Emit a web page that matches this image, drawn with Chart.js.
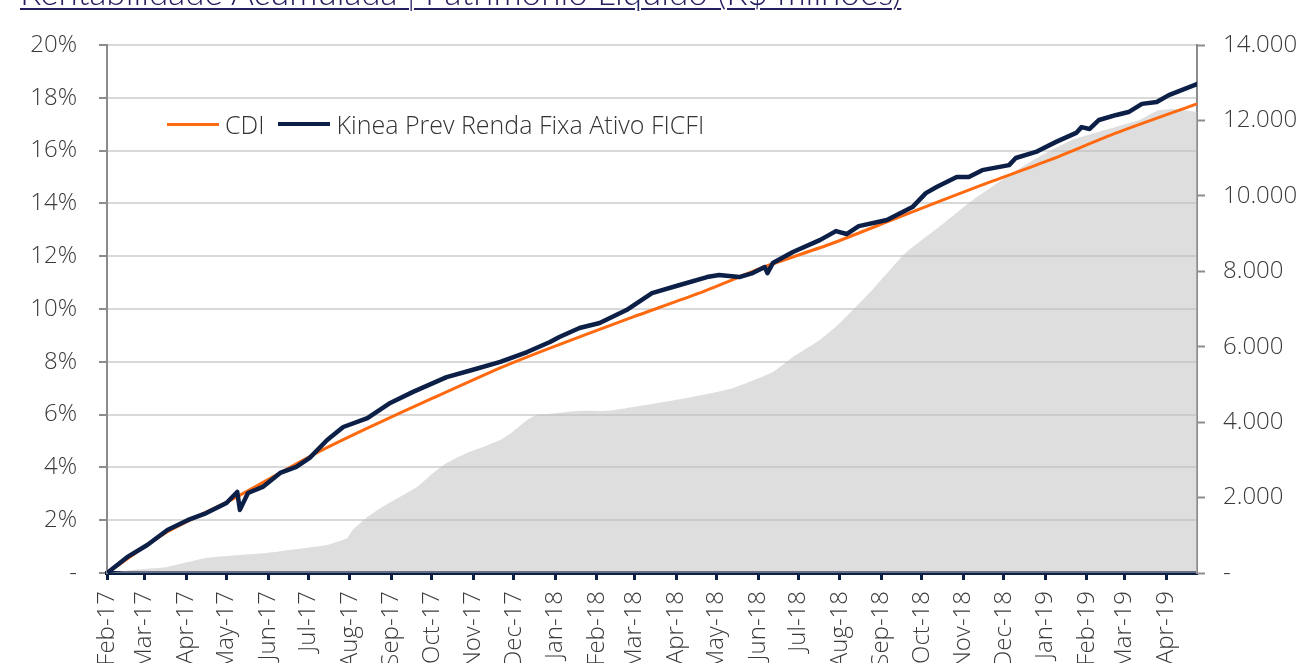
<!DOCTYPE html>
<html>
<head>
<meta charset="utf-8">
<script src="https://cdn.jsdelivr.net/npm/chart.js@4.4.1/dist/chart.umd.min.js"></script>
<style>
  html, body { margin: 0; padding: 0; background: #fff; overflow: hidden; }
  #wrap { position: relative; width: 1300px; height: 663px; overflow: hidden; }
  #title {
    position: absolute; left: 20px; top: -26px;
    font-family: Lato, "Open Sans", sans-serif; font-weight: 300;
    font-size: 35px; line-height: 35px; color: #221d5e;
    text-decoration: underline; text-decoration-thickness: 2px; text-underline-offset: 3px;
    white-space: nowrap;
  }
  #legend {
    position: absolute; left: 167px; top: 109px; height: 30px;
    display: flex; align-items: center;
    font-family: "Open Sans", Lato, sans-serif; font-weight: 300; font-size: 25px; color: #333;
    white-space: nowrap;
  }
  #legend .ln { display: inline-block; width: 52px; margin-right: 6px; }
  #legend .txt { margin-right: 14px; }
  canvas { position: absolute; left: 0; top: 0; }
</style>
</head>
<body>
<div id="wrap">
  <canvas id="c" width="1300" height="663"></canvas>
  <div id="title">Rentabilidade Acumulada | Patrimônio Líquido (R$ milhões)</div>
  <div id="legend"></div>
</div>
<script>
// ---- data ----
const startDate = '2017-02-01';
const endDate = '2019-04-24';

const tickDates = ['2017-02-01','2017-03-01','2017-04-01','2017-05-01','2017-06-01','2017-07-01','2017-08-01','2017-09-01','2017-10-01','2017-11-01','2017-12-01',
  '2018-01-01','2018-02-01','2018-03-01','2018-04-01','2018-05-01','2018-06-01','2018-07-01','2018-08-01','2018-09-01','2018-10-01','2018-11-01','2018-12-01',
  '2019-01-01','2019-02-01','2019-03-01','2019-04-01'];
const tickLabels = ['Feb-17','Mar-17','Apr-17','May-17','Jun-17','Jul-17','Aug-17','Sep-17','Oct-17','Nov-17','Dec-17',
  'Jan-18','Feb-18','Mar-18','Apr-18','May-18','Jun-18','Jul-18','Aug-18','Sep-18','Oct-18','Nov-18','Dec-18',
  'Jan-19','Feb-19','Mar-19','Apr-19'];

const kineaDates = ['2017-02-01','2017-02-16','2017-03-03','2017-03-18','2017-04-02','2017-04-16','2017-05-01','2017-05-09','2017-05-11','2017-05-17',
  '2017-05-28','2017-06-10','2017-06-22','2017-07-02','2017-07-15','2017-07-27','2017-08-14','2017-08-31','2017-09-17','2017-10-12',
  '2017-10-31','2017-11-21','2017-12-11','2017-12-28','2018-01-04','2018-01-19','2018-02-03','2018-02-23','2018-03-14','2018-04-03',
  '2018-04-24','2018-05-03','2018-05-18','2018-05-28','2018-06-06','2018-06-08','2018-06-12','2018-06-27','2018-07-17','2018-07-29',
  '2018-08-06','2018-08-15','2018-09-05','2018-09-24','2018-10-04','2018-10-12','2018-10-27','2018-11-05','2018-11-15','2018-12-05',
  '2018-12-10','2018-12-25','2019-01-09','2019-01-24','2019-01-28','2019-02-03','2019-02-10','2019-02-23','2019-03-04','2019-03-14',
  '2019-03-25','2019-04-03','2019-04-13','2019-04-24'];
const kineaValues = [0.00,0.60,1.06,1.63,2.00,2.27,2.65,3.07,2.39,3.03,
  3.26,3.79,4.02,4.36,5.04,5.53,5.87,6.44,6.86,7.42,
  7.69,8.00,8.37,8.75,8.94,9.28,9.47,9.96,10.60,10.90,
  11.21,11.29,11.21,11.36,11.59,11.36,11.74,12.16,12.61,12.95,
  12.84,13.14,13.37,13.86,14.39,14.62,15.00,15.00,15.26,15.45,
  15.72,15.95,16.33,16.67,16.89,16.82,17.16,17.35,17.46,17.77,
  17.84,18.10,18.30,18.52];

const cdiDates = ['2017-02-01','2017-03-18','2017-05-09','2017-07-04','2017-08-14','2017-10-02','2017-11-21','2017-12-28','2018-02-28',
  '2018-04-18','2018-06-07','2018-07-26','2018-09-14','2018-11-15','2019-01-04','2019-02-23','2019-04-24'];
const cdiValues = [0.00,1.56,2.89,4.47,5.49,6.63,7.77,8.52,9.70,
  10.60,11.62,12.48,13.48,14.70,15.64,16.67,17.77];

const plDates = ['2017-02-01','2017-02-20','2017-03-18','2017-04-02','2017-04-16','2017-05-11','2017-05-31','2017-07-04','2017-07-15','2017-07-30',
  '2017-08-03','2017-08-14','2017-08-25','2017-09-07','2017-09-20','2017-10-02','2017-10-12','2017-10-27','2017-11-08','2017-11-21',
  '2017-11-30','2017-12-11','2017-12-18','2017-12-31','2018-01-19','2018-02-10','2018-02-28','2018-04-09','2018-05-13','2018-06-12',
  '2018-06-27','2018-07-17','2018-08-01','2018-08-25','2018-09-19','2018-10-14','2018-11-08','2018-12-03','2018-12-27','2019-01-21',
  '2019-02-15','2019-03-12','2019-03-25','2019-04-05','2019-04-24'];
const plValues = [0,80,160,290,400,477,530,690,743,928,
  1140,1485,1750,2015,2280,2652,2917,3182,3341,3527,
  3739,4057,4190,4230,4300,4300,4400,4640,4900,5330,
  5730,6180,6630,7505,8490,9180,9890,10500,11030,11480,
  11750,12010,12250,12300,12225];

// ---- styling ----
const NAVY = '#0c1f47';
const ORANGE = '#ff6a10';
const TXT = '#3a3a3a';
const FONT = { family: '"Open Sans", Lato, sans-serif', weight: '300', size: 24 };

const t0 = Date.parse(startDate);
const day = s => (Date.parse(s) - t0) / 86400000;
const pts = (dates, vals) => dates.map((d, i) => ({ x: day(d), y: vals[i] }));
const thousands = v => String(v).replace(/\B(?=(\d{3})+(?!\d))/g, '.');

// legend (HTML, real text)
const legendItems = [
  { label: 'CDI', color: ORANGE, w: 3 },
  { label: 'Kinea Prev Renda Fixa Ativo FICFI', color: NAVY, w: 4 }
];
const lg = document.getElementById('legend');
legendItems.forEach(it => {
  const l = document.createElement('span');
  l.className = 'ln'; l.style.height = it.w + 'px'; l.style.background = it.color;
  const t = document.createElement('span');
  t.className = 'txt'; t.textContent = it.label;
  lg.appendChild(l); lg.appendChild(t);
});

new Chart(document.getElementById('c'), {
  type: 'line',
  data: {
    datasets: [
      { label: 'Kinea Prev Renda Fixa Ativo FICFI', data: pts(kineaDates, kineaValues), yAxisID: 'y',
        borderColor: NAVY, borderWidth: 4.5, pointRadius: 0, tension: 0, order: 1, borderJoinStyle: 'round', borderCapStyle: 'round' },
      { label: 'CDI', data: pts(cdiDates, cdiValues), yAxisID: 'y',
        borderColor: ORANGE, borderWidth: 3, pointRadius: 0, tension: 0.2, order: 2 },
      { label: 'Patrimônio Líquido (R$ milhões)', data: pts(plDates, plValues), yAxisID: 'y2',
        borderWidth: 0, borderColor: 'rgba(0,0,0,0)', backgroundColor: 'rgba(190,190,190,0.5)', fill: 'origin',
        pointRadius: 0, tension: 0.15, order: 3 }
    ]
  },
  options: {
    responsive: false,
    animation: false,
    events: [],
    layout: { padding: { top: 45, left: 0, right: 0, bottom: 0 } },
    plugins: { legend: { display: false }, tooltip: { enabled: false }, title: { display: false } },
    scales: {
      x: {
        type: 'linear', min: 0, max: day(endDate), z: 1,
        afterBuildTicks: s => { s.ticks = tickDates.map(d => ({ value: day(d) })); },
        afterFit: s => { s.height = 90; },
        ticks: { autoSkip: false, minRotation: 90, maxRotation: 90, padding: 11, color: TXT, font: FONT,
                 callback: (v, i) => tickLabels[i] },
        grid: { drawOnChartArea: false, drawTicks: true, tickLength: 7, tickWidth: 3, tickColor: NAVY },
        border: { color: NAVY, width: 4 }
      },
      y: {
        position: 'left', min: 0, max: 20,
        afterFit: s => { s.width = 107; },
        ticks: { stepSize: 2, padding: 22, color: TXT, font: FONT, callback: v => v === 0 ? '-' : v + '%' },
        grid: { color: '#d9d9d9', lineWidth: 2, tickColor: '#8c8c8c', tickLength: 8, tickWidth: 2 },
        border: { color: '#8c8c8c', width: 2 }
      },
      y2: {
        position: 'right', min: 0, max: 14000,
        afterFit: s => { s.width = 103; },
        ticks: { stepSize: 2000, padding: 18, color: TXT, font: FONT, callback: v => v === 0 ? '-' : thousands(v) },
        grid: { drawOnChartArea: false, tickColor: '#8c8c8c', tickLength: 8, tickWidth: 2 },
        border: { color: '#8c8c8c', width: 2 }
      }
    }
  }
});
</script>
</body>
</html>
